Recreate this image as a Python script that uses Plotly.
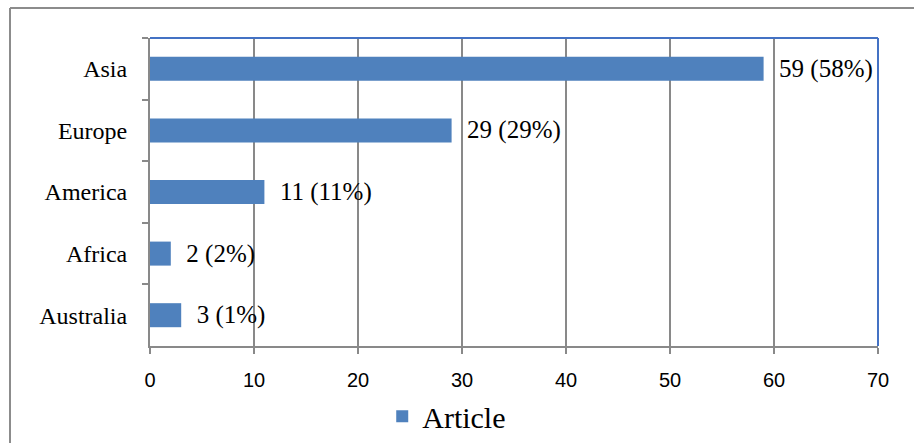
import plotly.graph_objects as go

# Articles by continent
continents = ["Asia", "Europe", "America", "Africa", "Australia"]
articles = [59, 29, 11, 2, 3]
shares = ["58%", "29%", "11%", "2%", "1%"]
x_ticks = [0, 10, 20, 30, 40, 50, 60, 70]

BAR = "#4F81BD"
GRID = "#898989"
FRAME = "#4472C4"
SERIF = "Liberation Serif, Times New Roman, serif"
SANS = "Liberation Sans, Arial, sans-serif"

# value labels, nudged away from the bar ends
labels = [f"\u00a0\u00a0{v} ({s})" for v, s in zip(articles, shares)]

fig = go.Figure(go.Bar(
    x=articles,
    y=continents,
    orientation="h",
    name="Article",
    marker=dict(color=BAR, line=dict(width=0)),
    width=0.39,
    text=labels,
    textposition="outside",
    constraintext="none",
    textfont=dict(family=SERIF, size=25, color="black"),
    cliponaxis=False,
))

fig.update_layout(
    width=914,
    height=443,
    margin=dict(l=150, r=36, t=38, b=97, autoexpand=False),
    paper_bgcolor="white",
    plot_bgcolor="white",
    showlegend=True,
    legend=dict(
        orientation="h",
        x=0.319, xanchor="left",
        y=-0.228, yanchor="middle",
        font=dict(family=SERIF, size=30, color="black"),
        itemwidth=30,
    ),
    xaxis=dict(
        range=[0, 70],
        tickvals=x_ticks,
        ticktext=[str(t) for t in x_ticks],
        showgrid=True, gridcolor=GRID, gridwidth=2,
        showline=True, linecolor=GRID, linewidth=2,
        ticks="outside", ticklen=6, tickwidth=2, tickcolor=GRID,
        tickfont=dict(family=SANS, size=20, color="black"),
        ticklabelstandoff=9,
        zeroline=False,
        fixedrange=True,
    ),
    yaxis=dict(
        autorange="reversed",
        showgrid=False,
        showline=True, linecolor=GRID, linewidth=2,
        ticks="outside", ticklen=6, tickwidth=2, tickcolor=GRID,
        tickson="boundaries",
        tickfont=dict(family=SERIF, size=24, color="black"),
        ticklabelstandoff=16,
    ),
    shapes=[
        # blue frame on top and right of plot area
        dict(type="line", xref="paper", yref="paper", x0=0, x1=1, y0=1, y1=1,
             line=dict(color=FRAME, width=2)),
        dict(type="line", xref="paper", yref="paper", x0=1, x1=1, y0=0, y1=1,
             line=dict(color=FRAME, width=2)),
        # outer chart border
        dict(type="line", xref="paper", yref="paper", x0=-0.1923, x1=1.09, y0=1.0974, y1=1.0974,
             line=dict(color="#8C8C8C", width=2)),
        dict(type="line", xref="paper", yref="paper", x0=-0.1923, x1=-0.1923, y0=-0.35, y1=1.0974,
             line=dict(color="#8C8C8C", width=2)),
    ],
)

fig.write_html("out.html")
